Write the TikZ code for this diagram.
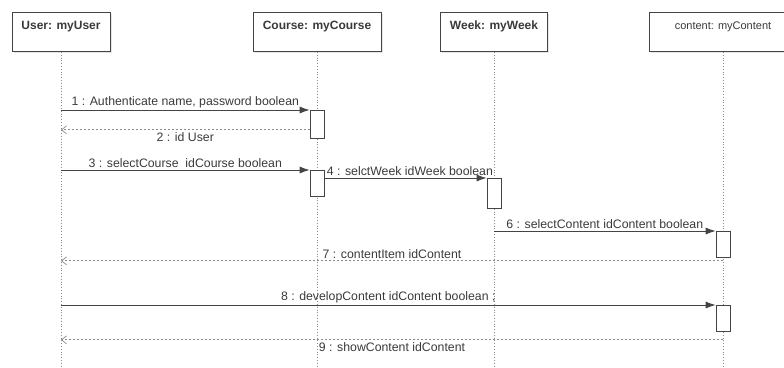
\documentclass[tikz,border=0pt]{standalone}
\usepackage{fontspec}
\setmainfont{Liberation Sans}
\usetikzlibrary{arrows.meta,positioning,shadows}
\definecolor{linegray}{HTML}{444444}
\definecolor{dotgray}{HTML}{8A8A8A}
\definecolor{textgray}{HTML}{3A3A3A}
\begin{document}
\begin{tikzpicture}[x=1pt,y=-1pt,>=Latex,font=\fontsize{12.3}{14}\selectfont,text=textgray]
\tikzset{head/.style={draw=linegray,fill=white,line width=0.9pt,anchor=north,minimum height=39pt,inner ysep=8pt,text height=9pt,text depth=14pt,drop shadow={opacity=0.2,shadow xshift=1.5pt,shadow yshift=-1.5pt}},
  act/.style={draw=linegray,fill=white,line width=0.8pt,anchor=north,minimum width=14pt,inner sep=0pt},
  life/.style={draw=dotgray,dotted,line width=0.8pt},
  call/.style={draw=linegray,line width=0.8pt,-{Latex[length=10pt,width=7pt]}},
  ret/.style={draw=dotgray,dashed,dash pattern=on 2pt off 2pt,line width=0.7pt,-{Straight Barb[length=5pt,width=8pt]}},
  msg/.style={inner sep=2pt}}
\useasboundingbox (0,0) rectangle (784,367);
\coordinate (bottom) at (0,367);
% lifeline heads
\node[head,minimum width=98pt,font=\fontsize{12}{14}\selectfont\bfseries] (user) at (61,12) {User: myUser};
\node[head,minimum width=128pt,font=\fontsize{12}{14}\selectfont\bfseries] (course) at (317,12) {Course: myCourse};
\node[head,minimum width=107pt,font=\fontsize{12}{14}\selectfont\bfseries] (week) at (494,12) {Week: myWeek};
\node[head,minimum width=148pt,font=\fontsize{11}{13}\selectfont] (content) at (723,12) {content: myContent};
\foreach \h in {user,course,week,content}{\draw[life] (\h.south) -- (\h |- bottom);}
% activations
\node[act,minimum height=28pt] (act1) at (course |- 0,110) {};
\node[act,minimum height=26pt] (act2) at (course |- 0,170) {};
\node[act,minimum height=30pt] (act3) at (week |- 0,178) {};
\node[act,minimum height=26pt] (act4) at (content |- 0,231) {};
\node[act,minimum height=26pt] (act5) at (content |- 0,305) {};
% messages
\draw[call] (user |- act1.north) -- (act1.north west) node[msg,midway,above] {1 : Authenticate name, password boolean};
\draw[ret] ([yshift=9pt]act1.south west) coordinate (r2) -- (user |- r2) node[msg,midway,below] {2 : id User};
\draw[call] (user |- act2.north) -- (act2.north west) node[msg,midway,above] {3 : selectCourse\ \ idCourse boolean};
\draw[call] ([yshift=-8pt]act2.north east) -- (act3.north west) node[msg,pos=0,above right] {4 : selctWeek idWeek boolean};
\draw[call] (week |- act4.north) -- (act4.north west) node[msg,midway,above] {6 : selectContent idContent boolean};
\draw[ret] ([yshift=-3pt]act4.south) coordinate (r7) -- (user |- r7) node[msg,midway,above] {7 : contentItem idContent};
\draw[call] (user |- act5.north) -- (act5.north west) node[msg,midway,above] {8 : developContent idContent boolean ;};
\draw[ret] ([yshift=-8pt]act5.south) coordinate (r9) -- (user |- r9) node[msg,midway,below] {9 : showContent idContent};
\end{tikzpicture}
\end{document}
